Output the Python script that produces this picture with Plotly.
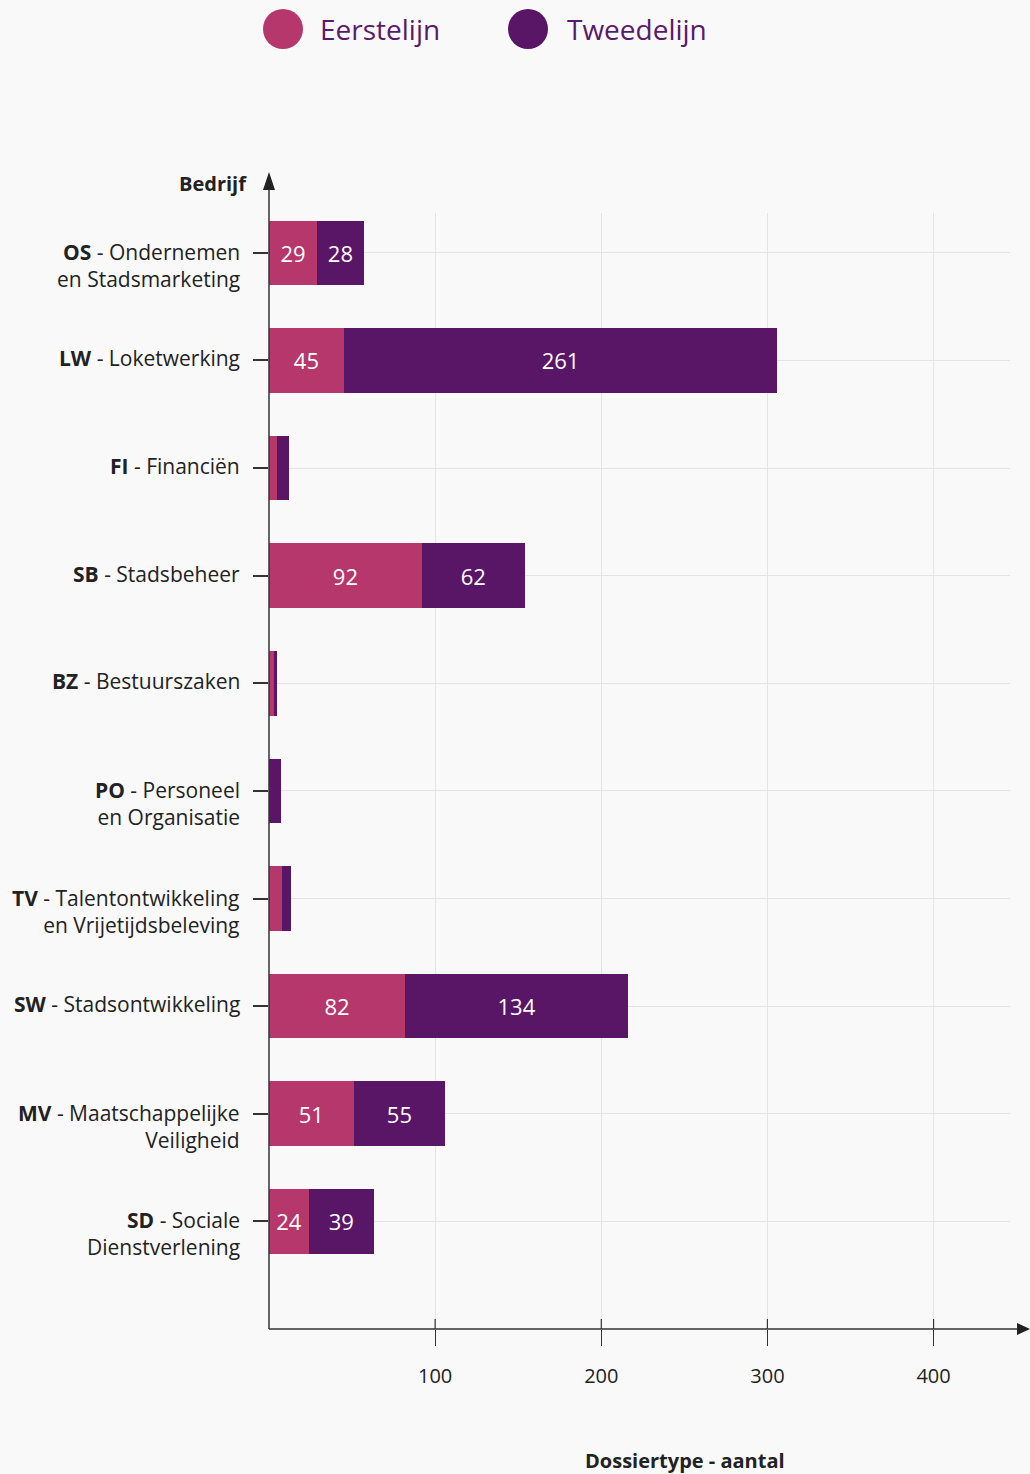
import plotly.graph_objects as go

# Categories (company units), top to bottom
codes = ["OS", "LW", "FI", "SB", "BZ", "PO", "TV", "SW", "MV", "SD"]
names = [
    "Ondernemen<br>en Stadsmarketing",
    "Loketwerking",
    "Financiën",
    "Stadsbeheer",
    "Bestuurszaken",
    "Personeel<br>en Organisatie",
    "Talentontwikkeling<br>en Vrijetijdsbeleving",
    "Stadsontwikkeling",
    "Maatschappelijke<br>Veiligheid",
    "Sociale<br>Dienstverlening",
]
eerstelijn = [29, 45, 5, 92, 3, 0, 8, 82, 51, 24]
tweedelijn = [28, 261, 7, 62, 2, 7, 5, 134, 55, 39]
series_names = ["Eerstelijn", "Tweedelijn"]
x_ticks = [100, 200, 300, 400]

COL_1 = "#b5376b"
COL_2 = "#591566"
TXT = "#222222"
FONT = "Open Sans"
LABEL_SIZE = 21
LINE_H = 29


def labels(vals):
    return [str(v) if v >= 20 else "" for v in vals]


fig = go.Figure()
for name, vals, col in [(series_names[0], eerstelijn, COL_1),
                        (series_names[1], tweedelijn, COL_2)]:
    fig.add_trace(go.Bar(
        y=codes, x=vals, name=name, orientation="h",
        marker=dict(color=col, line=dict(width=0)),
        width=0.6,
        text=labels(vals), textposition="inside",
        insidetextanchor="middle", textangle=0,
        textfont=dict(family=FONT, size=22, color="white"),
        cliponaxis=False, showlegend=False,
    ))

W, H = 1030, 1474
L, R, T, B = 269, 20, 213, 145
pw, ph = W - L - R, H - T - B


def px(x):
    return (x - L) / pw


def py(y):
    return (H - B - y) / ph


shapes = []
# y axis line with arrow
shapes.append(dict(type="line", xref="paper", yref="paper", x0=0, x1=0,
                   y0=0, y1=py(184), line=dict(color="#333", width=1.5)))
shapes.append(dict(type="path", xref="paper", yref="paper",
                   path=f"M {px(263)} {py(190)} L {px(275)} {py(190)} L {px(269)} {py(172)} Z",
                   fillcolor="#222", line=dict(width=0)))
# x axis line with arrow
shapes.append(dict(type="line", xref="paper", yref="paper", x0=0, x1=px(1020),
                   y0=0, y1=0, line=dict(color="#333", width=1.5)))
shapes.append(dict(type="path", xref="paper", yref="paper",
                   path=f"M {px(1017)} {py(1323)} L {px(1017)} {py(1335)} L {px(1030)} {py(1329)} Z",
                   fillcolor="#222", line=dict(width=0)))
# upper half of the crossing x ticks
for v in x_ticks:
    shapes.append(dict(type="line", xref="x", yref="paper", x0=v, x1=v,
                       y0=0, y1=10 / ph, line=dict(color="#333", width=1.2)))
# legend dots
for cx, col in [(283, COL_1), (528, COL_2)]:
    shapes.append(dict(type="circle", xref="paper", yref="paper",
                       x0=px(cx - 20), x1=px(cx + 20), y0=py(49), y1=py(9),
                       fillcolor=col, line=dict(width=0)))

annotations = [
    dict(text="<b>Bedrijf</b>", xref="paper", yref="paper", x=px(249), y=py(183),
         xanchor="right", yanchor="middle", showarrow=False,
         font=dict(family=FONT, size=20, color=TXT)),
    dict(text="<b>Dossiertype - aantal</b>", xref="paper", yref="paper",
         x=px(685), y=py(1461), xanchor="center", yanchor="middle", showarrow=False,
         font=dict(family=FONT, size=20, color=TXT)),
]
for tx, name in zip([318, 565], series_names):
    annotations.append(dict(text=name, xref="paper", yref="paper", x=px(tx), y=py(29),
                            xanchor="left", yanchor="middle", showarrow=False,
                            font=dict(family=FONT, size=28, color="#5a1a6b")))

# category labels: first line sits on the tick, further lines below it
for c, n in zip(codes, names):
    parts = n.split("<br>")
    text = "<br>".join([f"<b>{c}</b> - {parts[0]}"] + parts[1:])
    nlines = len(parts)
    annotations.append(dict(
        text=text, xref="paper", yref="y", x=px(242), y=c,
        xanchor="right", yanchor="middle", align="right", showarrow=False,
        yshift=2 - (nlines - 1) * LINE_H / 2,
        font=dict(family=FONT, size=LABEL_SIZE, color=TXT),
    ))

fig.update_layout(
    width=W, height=H,
    margin=dict(l=L, r=R, t=T, b=B, pad=0),
    paper_bgcolor="#f9f9f9", plot_bgcolor="#f9f9f9",
    barmode="stack", bargap=0.4,
    font=dict(family=FONT, size=19, color=TXT),
    shapes=shapes, annotations=annotations,
    showlegend=False,
)
fig.update_xaxes(
    range=[0, 446], tickvals=x_ticks, ticktext=[str(v) for v in x_ticks],
    showgrid=True, gridcolor="#e4e4e4", gridwidth=1,
    ticks="outside", ticklen=16, tickwidth=1.2, tickcolor="#333",
    ticklabelstandoff=13, zeroline=False, showline=False,
    tickfont=dict(family=FONT, size=20, color=TXT),
)
fig.update_yaxes(
    type="category", categoryorder="array", categoryarray=codes,
    range=[10.0, -0.37], tickvals=codes, ticktext=[""] * len(codes),
    showgrid=True, gridcolor="#e4e4e4", gridwidth=1,
    ticks="outside", ticklen=15, tickwidth=1.5, tickcolor="#333",
    zeroline=False, showline=False,
)

fig.write_html("out.html")
